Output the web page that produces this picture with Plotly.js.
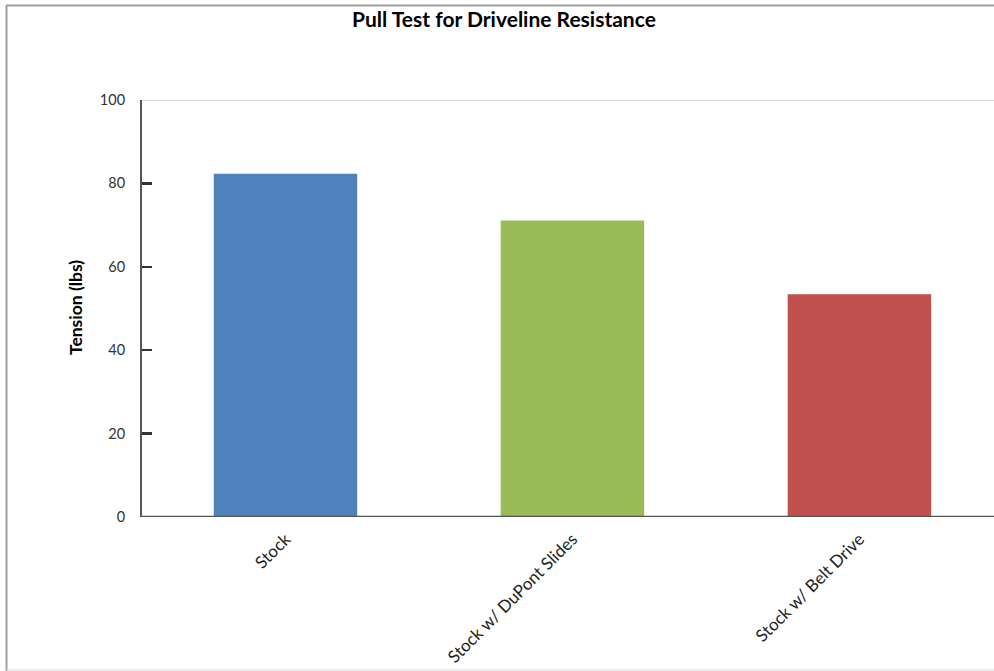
<!DOCTYPE html>
<html>
<head>
<meta charset="utf-8">
<script src="https://cdn.plot.ly/plotly-3.0.1.min.js"></script>
<style>html,body{margin:0;padding:0;background:#fff;}#chart{width:994px;height:671px;}</style>
</head>
<body>
<div id="chart"></div>
<script>
var categories = ["Stock", "Stock w/ DuPont Slides", "Stock w/ Belt Drive"];
var tension = [82.3, 71.1, 53.4];
var barColors = ["#4F81BD", "#9BBB59", "#C0504D"];
var yTicks = [0, 20, 40, 60, 80, 100];

var W = 994, H = 671, L = 142, R = 0, T = 100, B = 154;
var pw = W - L - R, ph = H - T - B;
function px(x){ return (x - L) / pw; }
function py(y){ return (H - B - y) / ph; }

var FONT = "Lato, 'Open Sans', sans-serif";

var trace = {
  type: "bar",
  x: categories,
  y: tension,
  marker: {color: barColors, line: {width: 0}},
  hoverinfo: "x+y"
};

var layout = {
  width: W, height: H,
  margin: {l: L, r: R, t: T, b: B, pad: 0},
  paper_bgcolor: "#fff", plot_bgcolor: "#fff",
  font: {family: FONT, size: 14, color: "#333"},
  showlegend: false,
  bargap: 0.5,
  title: {
    text: "<b>Pull Test for Driveline Resistance</b>",
    font: {family: FONT, size: 21, color: "#000"},
    x: 0.507, xref: "container", xanchor: "center",
    y: 1 - 20/H, yref: "container", yanchor: "middle"
  },
  xaxis: {
    type: "category",
    range: [-0.5, 2.469],
    tickangle: -45,
    ticks: "",
    showgrid: false,
    showline: false,
    zeroline: false,
    ticklabelstandoff: 8,
    tickfont: {family: FONT, size: 17, color: "#222"},
    automargin: false,
    fixedrange: true
  },
  yaxis: {
    range: [0, 100],
    tickvals: yTicks,
    ticktext: yTicks.map(String),
    ticks: "inside",
    ticklen: 10,
    tickwidth: 2.5,
    tickcolor: "#333",
    showline: true,
    linecolor: "#555",
    linewidth: 2,
    showgrid: false,
    zeroline: false,
    ticklabelstandoff: 12,
    tickfont: {family: FONT, size: 14.5, color: "#333"},
    automargin: false,
    fixedrange: true,
    layer: "above traces"
  },
  shapes: [
    {type: "line", xref: "paper", yref: "y", x0: 0, x1: 1, y0: 100, y1: 100,
     line: {color: "#b0b0b0", width: 1}},
    {type: "line", xref: "paper", yref: "y", x0: 0, x1: 1, y0: 0, y1: 0,
     line: {color: "#555", width: 2.5}},
    {type: "line", xref: "paper", yref: "paper", x0: px(6), x1: px(994), y0: py(5.5), y1: py(5.5),
     line: {color: "#a0a0a0", width: 2}},
    {type: "line", xref: "paper", yref: "paper", x0: px(6.5), x1: px(6.5), y0: py(5), y1: py(671),
     line: {color: "#a0a0a0", width: 2}},
    {type: "line", xref: "paper", yref: "paper", x0: px(6), x1: px(994), y0: py(670), y1: py(670),
     line: {color: "#d8d8d8", width: 1}}
  ],
  annotations: [
    {text: "<b>Tension (lbs)</b>", xref: "paper", yref: "paper",
     x: px(75), y: py(308), xanchor: "center", yanchor: "middle",
     textangle: -90, showarrow: false,
     font: {family: FONT, size: 17.5, color: "#000"}}
  ]
};

Plotly.newPlot("chart", [trace], layout, {displayModeBar: false, staticPlot: true});
</script>
</body>
</html>
